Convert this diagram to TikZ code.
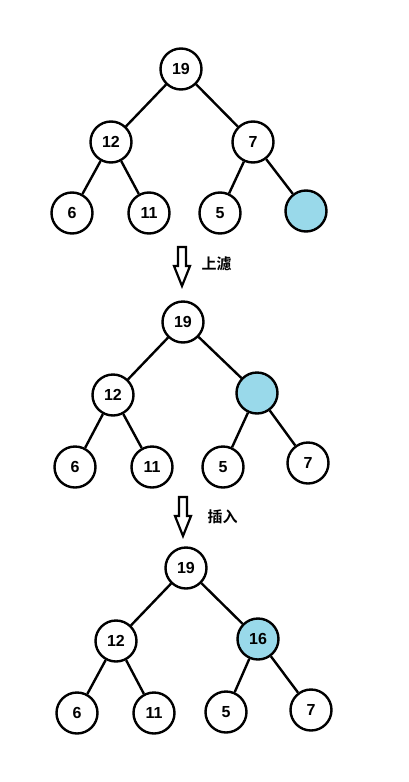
\documentclass[tikz,border=0pt]{standalone}
\usepackage{fontspec}
\setmainfont{Liberation Sans}
\newfontfamily\cjk{Noto Sans CJK SC}[BoldFont={Noto Sans CJK SC Bold}]
\definecolor{heapblue}{RGB}{153,217,234}

\begin{document}
\begin{tikzpicture}[x=1pt, y=-1pt,
  key/.style={circle, draw=black, line width=2.4pt, fill=white, minimum size=41pt, inner sep=0pt, font=\bfseries\fontsize{16}{16}\selectfont},
  hole/.style={key, fill=heapblue},
  link/.style={line width=2.4pt},
  flow/.style={line width=2.2pt, line join=miter}]
\useasboundingbox (0,0) rectangle (408,782);

% before
\node[key] (a19) at (181, 69){19};
\node[key] (a12) at (111, 142){12};
\node[key] (a7) at (253, 142){7};
\node[key] (a6) at (72, 213){6};
\node[key] (a11) at (149, 213){11};
\node[key] (a5) at (220, 213){5};
\node[hole] (anew) at (306, 211){};
\draw[link] (a19) -- (a12);
\draw[link] (a19) -- (a7);
\draw[link] (a12) -- (a6);
\draw[link] (a12) -- (a11);
\draw[link] (a7) -- (a5);
\draw[link] (a7) -- (anew);

\coordinate (up) at (182, 247);
\draw[flow] (up) ++(-4,0) -- ++(0,19) -- ++(-4,0) -- ++(8,20) -- ++(8,-20) -- ++(-4,0) -- ++(0,-19) -- cycle;
\node[right] (uptext) at (198, 264){\cjk\bfseries\fontsize{15}{15}\selectfont 上濾};

% after sift up
\node[key] (b19) at (183, 322){19};
\node[key] (b12) at (113, 395){12};
\node[hole] (bnew) at (257, 393){};
\node[key] (b6) at (75, 467){6};
\node[key] (b11) at (152, 467){11};
\node[key] (b5) at (223, 467){5};
\node[key] (b7) at (308, 463){7};
\draw[link] (b19) -- (b12);
\draw[link] (b19) -- (bnew);
\draw[link] (b12) -- (b6);
\draw[link] (b12) -- (b11);
\draw[link] (bnew) -- (b5);
\draw[link] (bnew) -- (b7);

\coordinate (ins) at (183, 497);
\draw[flow] (ins) ++(-4,0) -- ++(0,19) -- ++(-4,0) -- ++(8,20) -- ++(8,-20) -- ++(-4,0) -- ++(0,-19) -- cycle;
\node[right] (instext) at (204, 517){\cjk\bfseries\fontsize{15}{15}\selectfont 插入};

% after insert
\node[key] (c19) at (186, 568){19};
\node[key] (c12) at (116, 641){12};
\node[hole] (c16) at (258, 639){16};
\node[key] (c6) at (77, 713){6};
\node[key] (c11) at (154, 713){11};
\node[key] (c5) at (226, 712){5};
\node[key] (c7) at (311, 710){7};
\draw[link] (c19) -- (c12);
\draw[link] (c19) -- (c16);
\draw[link] (c12) -- (c6);
\draw[link] (c12) -- (c11);
\draw[link] (c16) -- (c5);
\draw[link] (c16) -- (c7);
\end{tikzpicture}
\end{document}
